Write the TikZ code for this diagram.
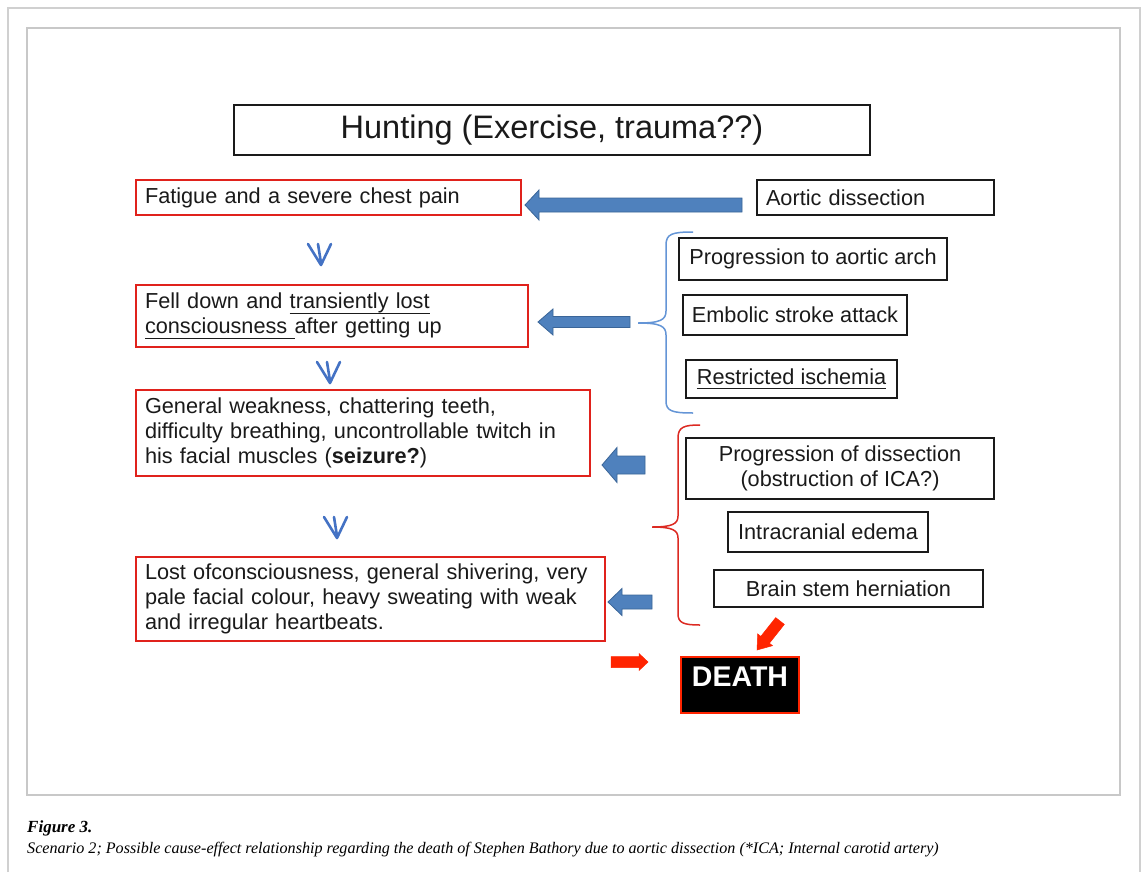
\documentclass[tikz,border=0pt]{standalone}
\usepackage{fontspec}
\setmainfont{Liberation Sans}
\newfontfamily\capfont{Liberation Serif}
\definecolor{redb}{HTML}{E0221C}
\definecolor{blackb}{HTML}{1A1A1A}
\definecolor{arrfill}{HTML}{4F81BD}
\definecolor{arrline}{HTML}{3A6598}
\definecolor{vblue}{HTML}{4472C4}
\definecolor{braceblue}{HTML}{6495D6}
\definecolor{bracered}{HTML}{DC2A22}
\definecolor{arrred}{HTML}{FF2400}
\definecolor{frameA}{HTML}{D0D0D0}
\definecolor{frameB}{HTML}{C8C8C8}
\newcommand\bodyfont{\fontsize{21.7}{25}\selectfont}
\newcommand\myul[1]{\leavevmode\setbox0\hbox{#1}\rlap{\rule[-5pt]{\wd0}{1.3pt}}\box0}
\newcommand\blockarrow[7]{%
  \filldraw[#1] (#2,#4) -- ({#2+#7},{#4-#6}) -- ({#2+#7},{#4-#5}) -- (#3,{#4-#5})
    -- (#3,{#4+#5}) -- ({#2+#7},{#4+#5}) -- ({#2+#7},{#4+#6}) -- cycle;}
\newcommand\varrow[2]{%
  \draw[vstroke] ({#1-13},{#2-21}) -- (#1,#2) -- ({#1+10},{#2-21});
  \draw[vstroke] ({#1-3},{#2-21}) -- (#1,{#2-2});}
\begin{document}
\begin{tikzpicture}[x=1pt,y=-1pt,
  redbox/.style={draw=redb, line width=1.7, inner xsep=9, inner ysep=2, align=left, font=\bodyfont, text=blackb},
  blackbox/.style={draw=blackb, line width=1.8, inner xsep=8, inner ysep=2, align=center, font=\bodyfont, text=blackb},
  bluearr/.style={fill=arrfill, draw=arrline, line width=0.8},
  redarr/.style={fill=arrred, draw=arrred, line width=0.5},
  vstroke/.style={draw=vblue, line width=2.6, line cap=round, line join=round},
  bluebrace/.style={draw=braceblue, line width=1.5},
  redbrace/.style={draw=bracered, line width=1.5}]
\useasboundingbox (0,0) rectangle (1142,872);
\fill[white] (0,0) rectangle (1142,872);
% frames
\draw[frameA, line width=2] (8,872) -- (8,8) -- (1140,8) -- (1140,872);
\draw[frameB, line width=1.2] (27,28) rectangle (1120,795);

% title
\node[blackbox, minimum width=636, minimum height=50, font=\fontsize{32.5}{38}\selectfont] (title) at (552,130) {Hunting (Exercise, trauma??)};

% left column (red boxes)
\node[redbox, text width=367, minimum height=35] (fat) at (328.5,197.5) {Fatigue and a severe chest pain};
\node[redbox, text width=374, minimum height=62] (fell) at (332,316)
  {Fell down and \myul{transiently lost}\\\myul{consciousness\ }after getting up};
\node[redbox, text width=436, minimum height=86] (weak) at (363,433)
  {General weakness, chattering teeth,\\difficulty breathing, uncontrollable twitch in\\his facial muscles (\textbf{seizure?})};
\node[redbox, text width=451, minimum height=84] (lost) at (370.5,599)
  {Lost ofconsciousness, general shivering, very\\pale facial colour, heavy sweating with weak\\and irregular heartbeats.};

% right column (black boxes)
\node[blackbox, align=left, text width=219, inner xsep=9, minimum height=35] (aortic) at (875.5,197.5) {Aortic dissection};
\node[blackbox, minimum width=268, minimum height=42] (arch) at (813,259) {Progression to aortic arch};
\node[blackbox, minimum width=224, minimum height=40] (emb) at (795,315) {Embolic stroke attack};
\node[blackbox, minimum width=211, minimum height=38] (isch) at (791.5,379) {\myul{Restricted ischemia}};
\node[blackbox, minimum width=308, minimum height=61] (prog) at (840,468.5) {Progression of dissection\\(obstruction of ICA?)};
\node[blackbox, minimum width=200, minimum height=40] (edema) at (828,532) {Intracranial edema};
\node[blackbox, minimum width=269, minimum height=37] (herni) at (848.5,588.5) {Brain stem herniation};

% death
\node[draw=arrred, fill=black, line width=2, minimum width=118, inner ysep=7, text height=22pt, text depth=20pt,
  text=white, font=\fontsize{28.5}{30}\selectfont\bfseries] (death) at (740,685) {DEATH};

% blue block arrows
\blockarrow{bluearr}{525}{742}{205}{7}{15}{14}
\blockarrow{bluearr}{538}{630}{322}{5.5}{13}{15}
\blockarrow{bluearr}{602}{645}{465}{9}{17.5}{15}
\blockarrow{bluearr}{608}{652}{602}{7}{13.5}{14}

% red arrows
\blockarrow{redarr}{648}{611}{662}{5.5}{8.5}{(-9)}
\filldraw[redarr] (757,650) -- (772.5,645.7) -- (769.4,643.2) -- (784.3,624.4)
  -- (775.7,617.6) -- (760.8,636.4) -- (757.7,633.9) -- cycle;

% V arrows
\varrow{321}{265}
\varrow{330}{383}
\varrow{337}{538}

% braces
\draw[bluebrace] (693,232) .. controls (672,232) and (666,234) .. (666,245) -- (666,311)
  .. controls (666,320) and (660,323) .. (638,323)
  .. controls (660,323) and (666,326) .. (666,335) -- (666,401)
  .. controls (666,411) and (672,413) .. (693,413);
\draw[redbrace] (700,425) .. controls (684,425) and (678,427) .. (678,438) -- (678,516)
  .. controls (678,524) and (672,527) .. (652,527)
  .. controls (672,527) and (678,530) .. (678,538) -- (678,614)
  .. controls (678,623) and (684,625) .. (700,625);

% caption
\node[anchor=base west, inner sep=0, font=\capfont\fontsize{17}{20}\selectfont\bfseries\itshape] (figlab) at (27,832) {Figure 3.};
\node[anchor=base west, inner sep=0, font=\capfont\fontsize{16.1}{20}\selectfont\itshape] (figcap) at (27,853)
  {Scenario 2; Possible cause-effect relationship regarding the death of Stephen Bathory due to aortic dissection (*ICA; Internal carotid artery)};
\end{tikzpicture}
\end{document}
